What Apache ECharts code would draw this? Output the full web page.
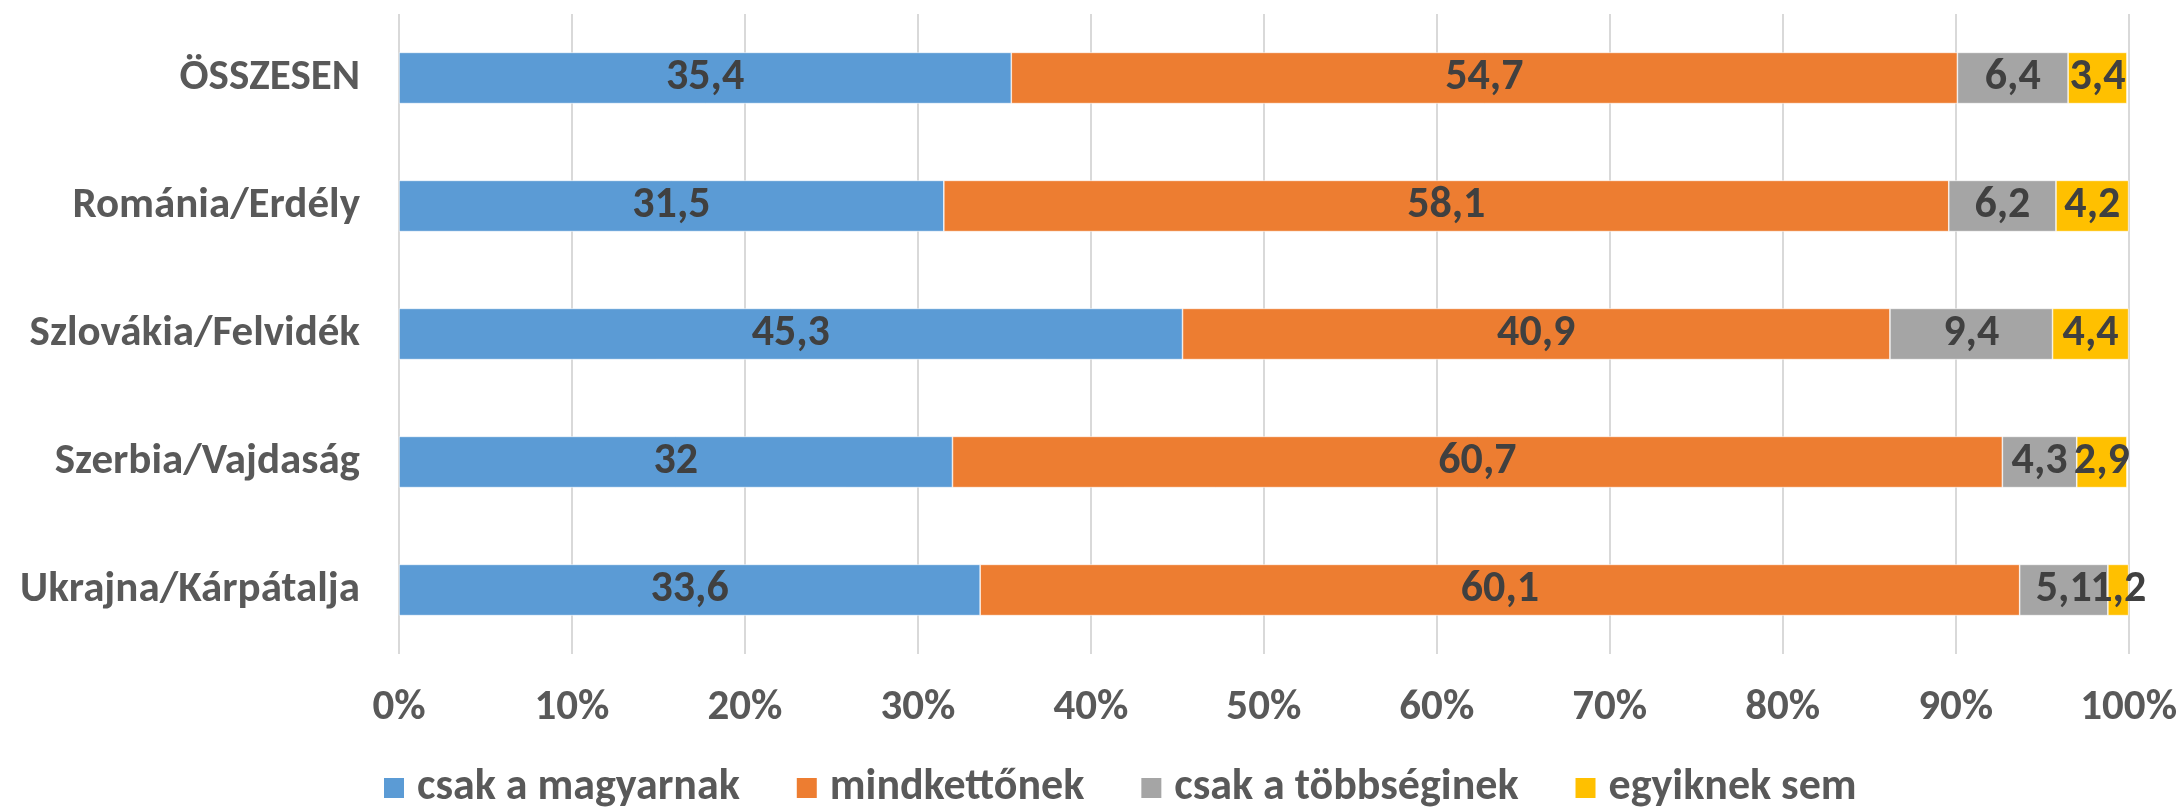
<!DOCTYPE html>
<html>
<head>
<meta charset="utf-8">
<script src="https://cdn.jsdelivr.net/npm/echarts@6/dist/echarts.min.js"></script>
<style>
  html, body { margin: 0; padding: 0; background: #fff; }
  #main { width: 2180px; height: 809px; }
</style>
</head>
<body>
<div id="main"></div>
<script>
// adatok
var regions = ['ÖSSZESEN', 'Románia/Erdély', 'Szlovákia/Felvidék', 'Szerbia/Vajdaság', 'Ukrajna/Kárpátalja'];
var seriesNames = ['csak a magyarnak', 'mindkettőnek', 'csak a többséginek', 'egyiknek sem'];
var csakMagyar = [35.4, 31.5, 45.3, 32, 33.6];
var mindketto = [54.7, 58.1, 40.9, 60.7, 60.1];
var csakTobbseg = [6.4, 6.2, 9.4, 4.3, 5.1];
var egyiksem = [3.4, 4.2, 4.4, 2.9, 1.2];
var colors = ['#5B9BD5', '#ED7D31', '#A5A5A5', '#FFC000'];

var font = "Carlito, 'Liberation Sans Narrow', 'DejaVu Sans Condensed', sans-serif";

var chart = echarts.init(document.getElementById('main'));

function makeSeries(name, data, color) {
    return {
        name: name,
        type: 'bar',
        stack: 'total',
        barWidth: '40%',
        data: data,
        itemStyle: { color: color, borderColor: '#fff', borderWidth: 0.6 },
        label: {
            show: true,
            position: 'inside',
            color: '#404040',
            fontFamily: font,
            fontWeight: 'bold',
            fontSize: 44,
            formatter: function (p) { return String(p.value).replace('.', ','); }
        }
    };
}

chart.setOption({
    animation: false,
    color: colors,
    grid: { left: 399, right: 51, top: 14, bottom: 155, containLabel: false },
    legend: {
        top: 761,
        left: 377,
        itemWidth: 22,
        itemHeight: 22,
        itemGap: 55,
        icon: 'rect',
        textStyle: { color: '#595959', fontFamily: font, fontWeight: 'bold', fontSize: 44, padding: [0, 0, 0, 7] },
        data: seriesNames
    },
    xAxis: {
        type: 'value',
        min: 0,
        max: 100,
        interval: 10,
        axisLine: { show: false },
        axisTick: { show: false },
        splitLine: { show: true, lineStyle: { color: '#D9D9D9', width: 2 } },
        axisLabel: {
            margin: 33,
            color: '#595959',
            fontFamily: font,
            fontWeight: 'bold',
            fontSize: 43,
            formatter: '{value}%'
        }
    },
    yAxis: {
        type: 'category',
        inverse: true,
        data: regions,
        axisLine: { show: false },
        axisTick: { show: false },
        axisLabel: {
            margin: 39,
            color: '#595959',
            fontFamily: font,
            fontWeight: 'bold',
            fontSize: 43
        }
    },
    series: [
        makeSeries(seriesNames[0], csakMagyar, colors[0]),
        makeSeries(seriesNames[1], mindketto, colors[1]),
        makeSeries(seriesNames[2], csakTobbseg, colors[2]),
        makeSeries(seriesNames[3], egyiksem, colors[3])
    ]
});
</script>
</body>
</html>
